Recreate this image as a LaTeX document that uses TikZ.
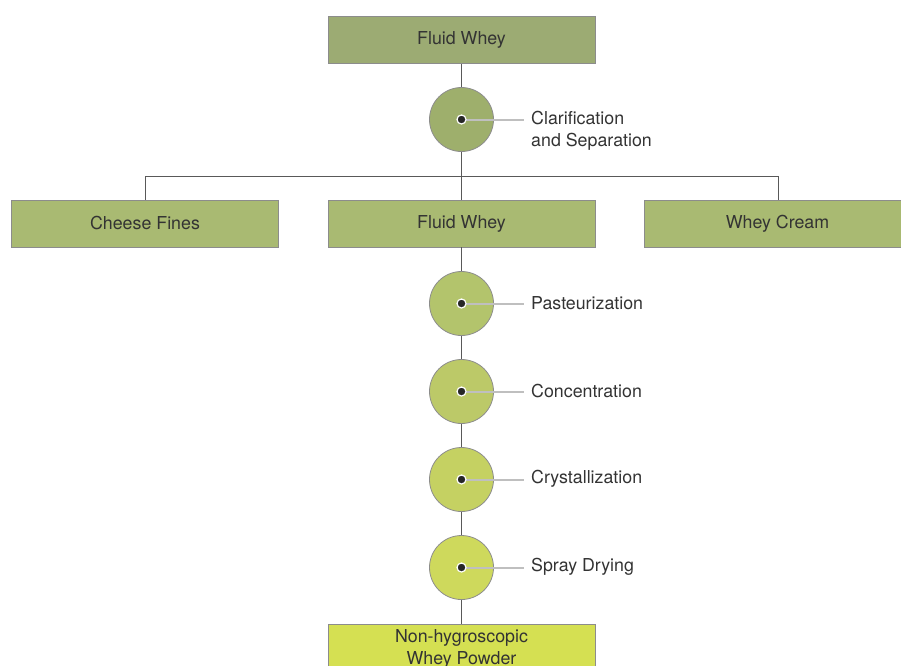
\documentclass[tikz,border=0pt]{standalone}
\usepackage{fontspec}
\setmainfont{TeX Gyre Heros}
\begin{document}
\begin{tikzpicture}[x=1pt,y=-1pt,
  txt/.style={font=\fontsize{17.8}{22}\selectfont, text=black!80},
  procbox/.style={draw=black!45, line width=0.8pt, minimum width=267pt, minimum height=47pt, inner sep=0pt, txt, align=center},
  stepcirc/.style={circle, draw=black!45, line width=0.8pt, minimum size=64pt, inner sep=0pt},
  wire/.style={draw=black!65, line width=0.8pt},
  pointer/.style={draw=black!25, line width=2pt},
  hub/.style={circle, fill=black!85, draw=white, line width=1.2pt, minimum size=9pt, inner sep=0pt},
  steplabel/.style={txt, anchor=west, align=left, inner sep=0pt}
]
\useasboundingbox (0,0) rectangle (901,665);
\clip (0,0) rectangle (901,665);
\definecolor{c0}{HTML}{9CAB73}
\definecolor{c1}{HTML}{9EAF6C}
\definecolor{c2}{HTML}{A9BA72}
\definecolor{c3}{HTML}{B3C46C}
\definecolor{c4}{HTML}{BCC968}
\definecolor{c5}{HTML}{C5D162}
\definecolor{c6}{HTML}{CED95C}
\definecolor{c7}{HTML}{D5E052}

% boxes
\node[procbox, fill=c0] (fw0) at (461.5,40) {Fluid Whey};
\node[procbox, fill=c2] (fines) at (145,223.5) {Cheese Fines};
\node[procbox, fill=c2] (fw1) at (461.5,223.5) {Fluid Whey};
\node[procbox, fill=c2] (cream) at (777.5,223.5) {Whey Cream};
\node[procbox, fill=c7, minimum height=50pt, anchor=north] (powder) at (461.5,624) {};
\node[txt, align=center, inner sep=0pt] (powdertxt) at (461.5,648.5) {Non-hygroscopic\\Whey Powder};

% process steps
\node[stepcirc, fill=c1] (s0) at (461.5,119.5) {};
\node[stepcirc, fill=c3] (s1) at (461.5,303.5) {};
\node[stepcirc, fill=c4] (s2) at (461.5,391.5) {};
\node[stepcirc, fill=c5] (s3) at (461.5,479.5) {};
\node[stepcirc, fill=c6] (s4) at (461.5,567.5) {};

% split point above the second row
\coordinate (split) at (461.5,176);
\coordinate (splitL) at (145,176);
\coordinate (splitR) at (778,176);

% main flow
\draw[wire] (fw0.south) -- (s0.north);
\draw[wire] (s0.south) -- (fw1.north);
\draw[wire] (splitL) -- (splitR);
\draw[wire] (splitL) -- (fines.north);
\draw[wire] (splitR) -- (splitR |- cream.north);
\draw[wire] (fw1.south) -- (s1.north);
\draw[wire] (s1.south) -- (s2.north);
\draw[wire] (s2.south) -- (s3.north);
\draw[wire] (s3.south) -- (s4.north);
\draw[wire] (s4.south) -- (powder.north);

% pointers from each step to its label
\foreach \s in {s0,s1,s2,s3,s4}{
  \coordinate (\s p) at ([xshift=62pt]\s.center);
  \draw[pointer] (\s.center) -- (\s p);
}
\node[steplabel] (l0) at (531,130.5) {Clarification\\and Separation};
\node[steplabel] (l1) at (531,303) {Pasteurization};
\node[steplabel] (l2) at (531,391) {Concentration};
\node[steplabel] (l3) at (531,479) {Crystallization};
\node[steplabel] (l4) at (531,567) {Spray Drying};

\foreach \s in {s0,s1,s2,s3,s4}{
  \node[hub] (\s h) at (\s.center) {};
}
\end{tikzpicture}
\end{document}
